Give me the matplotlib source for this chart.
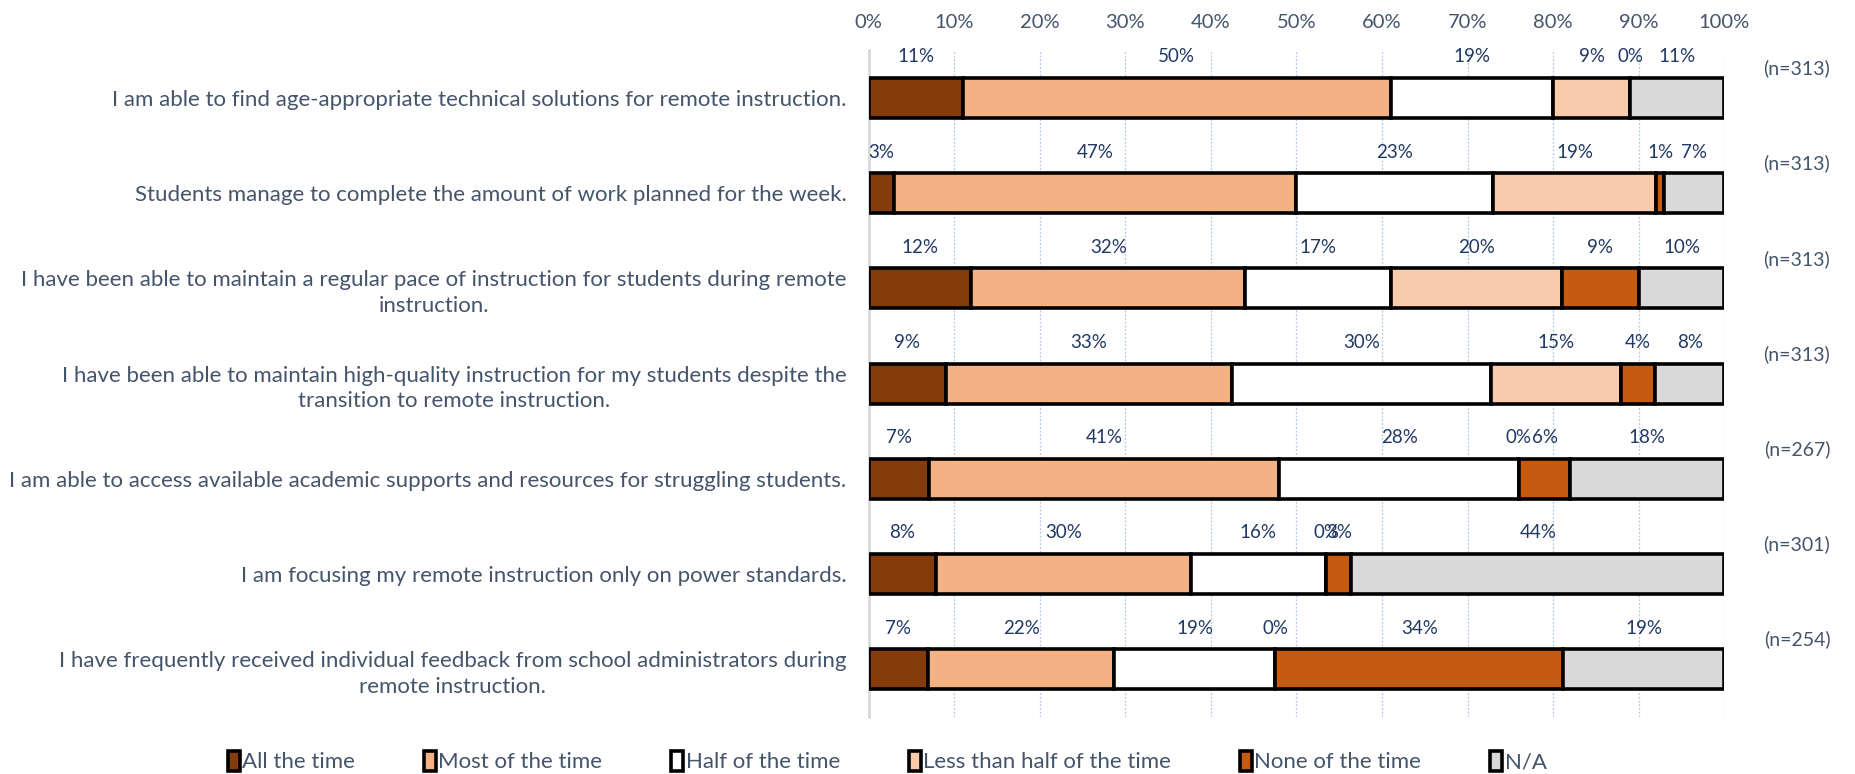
import numpy as np
import matplotlib.pyplot as plt
from matplotlib.patches import Patch

plt.rcParams['font.family'] = ['Lato', 'DejaVu Sans']

# Data
questions = [
    "I am able to find age-appropriate technical solutions for remote instruction.",
    "Students manage to complete the amount of work planned for the week.",
    "I have been able to maintain a regular pace of instruction for students during remote\ninstruction.",
    "I have been able to maintain high-quality instruction for my students despite the\ntransition to remote instruction.",
    "I am able to access available academic supports and resources for struggling students.",
    "I am focusing my remote instruction only on power standards.",
    "I have frequently received individual feedback from school administrators during\nremote instruction.",
]
n_labels = ["(n=313)", "(n=313)", "(n=313)", "(n=313)", "(n=267)", "(n=301)", "(n=254)"]
categories = ["All the time", "Most of the time", "Half of the time",
              "Less than half of the time", "None of the time", "N/A"]
colors = ["#843C0C", "#F4B183", "#FFFFFF", "#F8CBAD", "#C55A11", "#D9D9D9"]

all_time = [11, 3, 12, 9, 7, 8, 7]
most_time = [50, 47, 32, 33, 41, 30, 22]
half_time = [19, 23, 17, 30, 28, 16, 19]
less_half = [9, 19, 20, 15, 0, 0, 0]
none_time = [0, 1, 9, 4, 6, 3, 34]
na = [11, 7, 10, 8, 18, 44, 19]

series = np.array([all_time, most_time, half_time, less_half, none_time, na], dtype=float)
# 100% stacked: normalise each row
shares = series / series.sum(axis=0) * 100

label_color = "#44546A"
value_color = "#203864"

fig = plt.figure(figsize=(18.56, 7.74), dpi=100)
ax = fig.add_axes([0.468, 0.074, 0.461, 0.861])

y = np.arange(len(questions))
left = np.zeros(len(questions))
for i, cat in enumerate(categories):
    ax.barh(y, shares[i], left=left, height=0.42, color=colors[i],
            edgecolor="black", linewidth=2.6, zorder=3)
    for j in range(len(questions)):
        ax.text(left[j] + shares[i][j] / 2, y[j] - 0.43, f"{int(series[i][j])}%",
                ha="center", va="center", fontsize=13.5, color=value_color)
    left += shares[i]

for j, n in enumerate(n_labels):
    ax.text(1.085, y[j] - 0.31, n, transform=ax.get_yaxis_transform(),
            ha="center", va="center", fontsize=14, color=label_color)

ax.set_xlim(0, 100)
ax.set_ylim(len(questions) - 0.5, -0.5)
ax.set_yticks(y)
ax.set_yticklabels(questions, multialignment="center", linespacing=1.35)
ax.tick_params(axis="y", length=0, pad=16, labelsize=16, labelcolor=label_color)

ax.xaxis.tick_top()
ax.set_xticks(np.arange(0, 101, 10))
ax.set_xticklabels([f"{t}%" for t in range(0, 101, 10)])
ax.tick_params(axis="x", length=0, pad=14, labelsize=14.5, labelcolor=label_color)

ax.grid(axis="x", color="#B4C7E7", linestyle=(0, (1.5, 1.5)), linewidth=0.9, zorder=0)
for s in ["top", "right", "bottom"]:
    ax.spines[s].set_visible(False)
ax.spines["left"].set_color("#D9D9D9")
ax.spines["left"].set_linewidth(2)

handles = [Patch(facecolor=c, edgecolor="black", linewidth=2.6) for c in colors]
fig.legend(handles, categories, loc="center", bbox_to_anchor=(0.478, 0.016), ncol=6,
           frameon=False, fontsize=16, labelcolor=label_color,
           handlelength=0.55, handleheight=1.0, handletextpad=0.1, columnspacing=3.1)

fig.savefig("out.png", dpi=100)
